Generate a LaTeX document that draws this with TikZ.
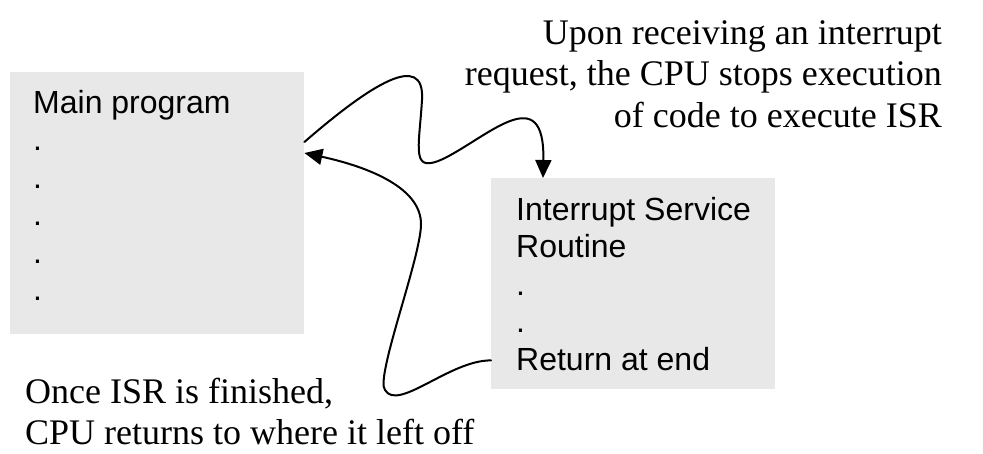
\documentclass[tikz,border=0pt]{standalone}
\usepackage{fontspec}
\setmainfont{Liberation Serif}
\setsansfont{Liberation Sans}
\usetikzlibrary{arrows.meta}
\definecolor{boxgray}{RGB}{232,232,232}
\tikzset{
  codebox/.style={fill=boxgray,inner sep=0pt,anchor=north west},
  codetext/.style={anchor=base west,inner sep=0pt,align=left,font=\sffamily\fontsize{32}{37.5}\selectfont},
  note/.style={inner sep=0pt,font=\fontsize{36}{41.5}\selectfont},
  flow/.style={line width=2pt,->}
}

\begin{document}
\begin{tikzpicture}[line cap=round,line join=round,>={Triangle[length=18pt,width=16pt]},x=1pt,y=-1pt]
\useasboundingbox (0,0) rectangle (983,453);
\node [codebox,minimum width=294pt,minimum height=262pt] (main) at (10,72) {};
\node [codebox,minimum width=284pt,minimum height=211pt] (isr) at (491,178) {};
% multi-line nodes sit on the baseline of their last line
\node [codetext] (maintxt) at (33,300.5) {Main program\\.\\.\\.\\.\\.};
\node [codetext] (isrtxt) at (516,370) {Interrupt Service\\Routine\\.\\.\\Return at end};
\node [note,anchor=base east,align=right] (irqtxt) at (942,127) {Upon receiving an interrupt\\request, the CPU stops execution\\of code to execute ISR};
\node [note,anchor=base west,align=left] (rettxt) at (25,444.5) {Once ISR is finished,\\CPU returns to where it left off};
% jump to the ISR
\draw [flow] ([yshift=-70pt]main.north east) .. controls (370,85) and (425,50) .. (422,100)
  .. controls (419,150) and (410,175) .. (445,158)
  .. controls (490,135) and (545,80) .. ([xshift=52pt]isr.north west);
% back to the main program
\draw [flow] ([yshift=29pt]isr.south west) .. controls (450,360) and (398,412) .. (385,390)
  .. controls (375,378) and (420,260) .. (421,225)
  .. controls (422,185) and (360,165) .. ([yshift=-81pt]main.north east);
\end{tikzpicture}
\end{document}
